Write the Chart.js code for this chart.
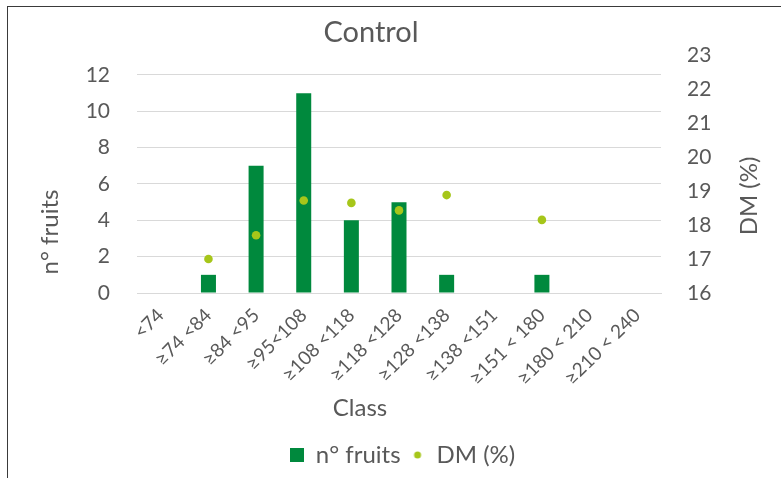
<!DOCTYPE html>
<html>
<head>
<meta charset="utf-8">
<script src="https://cdn.jsdelivr.net/npm/chart.js@4/dist/chart.umd.min.js"></script>
<style>
  html, body { margin: 0; padding: 0; background: #fff; }
  #wrap { position: relative; width: 781px; height: 478px; overflow: hidden; }
  #frame { position: absolute; left: 7px; top: 6px; width: 900px; height: 600px; border: 1.5px solid #3a3a3a; }
  #chart { position: absolute; left: 0; top: 0; }
</style>
</head>
<body>
<div id="wrap">
  <div id="frame"></div>
  <canvas id="chart" width="781" height="478"></canvas>
</div>
<script>
// values
const classes = ['<74', '≥74 <84', '≥84 <95', '≥95<108', '≥108 <118', '≥118 <128', '≥128 <138', '≥138 <151', '≥151 < 180', '≥180 < 210', '≥210 < 240'];
const fruitCounts = [0, 1, 7, 11, 4, 5, 1, 0, 1, 0, 0];
const dmPercent = [null, 17.0, 17.7, 18.72, 18.65, 18.43, 18.88, null, 18.15, null, null];
const fruitTicks = [0, 2, 4, 6, 8, 10, 12];

const barGreen = '#00893d';
const dotGreen = '#a6c61a';
const textGrey = '#595959';
const fontFam = 'Lato, "Noto Sans", sans-serif';

// small icons for the legend (square and dot have different sizes)
function makeIcon(draw) {
  const c = document.createElement('canvas');
  c.width = 14; c.height = 14;
  draw(c.getContext('2d'));
  return c;
}
const squareIcon = makeIcon(ctx => { ctx.fillStyle = barGreen; ctx.fillRect(0, 0, 14, 14); });
const dotIcon = makeIcon(ctx => { ctx.fillStyle = dotGreen; ctx.beginPath(); ctx.arc(7, 7, 3.5, 0, Math.PI * 2); ctx.fill(); });

// title and axis titles sit off-centre in the original, so draw them here
const textPlugin = {
  id: 'texts',
  afterDraw(chart) {
    const ctx = chart.ctx;
    ctx.save();
    ctx.fillStyle = textGrey;
    ctx.textAlign = 'center';
    ctx.textBaseline = 'middle';
    ctx.font = '29px ' + fontFam;
    ctx.fillText('Control', 371, 33);
    ctx.font = '24px ' + fontFam;
    ctx.fillText('Class', 360, 408);
    ctx.save();
    ctx.translate(50, 232);
    ctx.rotate(-Math.PI / 2);
    ctx.fillText('n° fruits', 0, 0);
    ctx.restore();
    ctx.save();
    ctx.translate(749, 196);
    ctx.rotate(-Math.PI / 2);
    ctx.fillText('DM (%)', 0, 0);
    ctx.restore();
    ctx.restore();
  }
};

new Chart(document.getElementById('chart'), {
  data: {
    labels: classes,
    datasets: [
      {
        type: 'bar',
        label: 'n° fruits',
        data: fruitCounts,
        backgroundColor: barGreen,
        borderWidth: 0,
        categoryPercentage: 1,
        barPercentage: 0.315,
        yAxisID: 'y',
        order: 1
      },
      {
        type: 'line',
        label: 'DM (%)',
        data: dmPercent,
        showLine: false,
        pointRadius: 4.3,
        pointBackgroundColor: dotGreen,
        pointBorderWidth: 0,
        yAxisID: 'y1',
        order: 0
      }
    ]
  },
  options: {
    responsive: false,
    animation: false,
    events: [],
    // left padding pushes the centred legend a bit to the right
    layout: { padding: { top: 55, left: 24, right: 0, bottom: 1 } },
    scales: {
      x: {
        offset: true,
        grid: { display: false },
        border: { display: true, color: '#d9d9d9', width: 1 },
        ticks: {
          autoSkip: false,
          minRotation: 45,
          maxRotation: 45,
          color: textGrey,
          font: { family: fontFam, size: 19 }
        },
        afterFit: scale => { scale.height = 140; }
      },
      y: {
        position: 'left',
        min: 0,
        max: 13.1,
        grid: { color: '#d9d9d9', drawTicks: false },
        border: { display: false },
        ticks: {
          stepSize: 2,
          padding: 27,
          color: textGrey,
          font: { family: fontFam, size: 21 }
        },
        afterBuildTicks: scale => { scale.ticks = fruitTicks.map(v => ({ value: v })); },
        afterFit: scale => { scale.width = 113; }
      },
      y1: {
        position: 'right',
        min: 16,
        max: 23,
        grid: { display: false, drawTicks: false },
        border: { display: false },
        ticks: {
          stepSize: 1,
          padding: 26,
          color: textGrey,
          font: { family: fontFam, size: 21 }
        },
        afterFit: scale => { scale.width = 120; }
      }
    },
    plugins: {
      tooltip: { enabled: false },
      title: { display: false },
      legend: {
        position: 'bottom',
        labels: {
          usePointStyle: true,
          boxWidth: 14,
          boxHeight: 14,
          padding: 10,
          color: textGrey,
          font: { family: fontFam, size: 24 },
          generateLabels: chart => {
            const items = Chart.defaults.plugins.legend.labels.generateLabels(chart);
            items.sort((a, b) => a.datasetIndex - b.datasetIndex);
            items[0].pointStyle = squareIcon;
            items[1].pointStyle = dotIcon;
            return items;
          }
        }
      }
    }
  },
  plugins: [textPlugin]
});
</script>
</body>
</html>
